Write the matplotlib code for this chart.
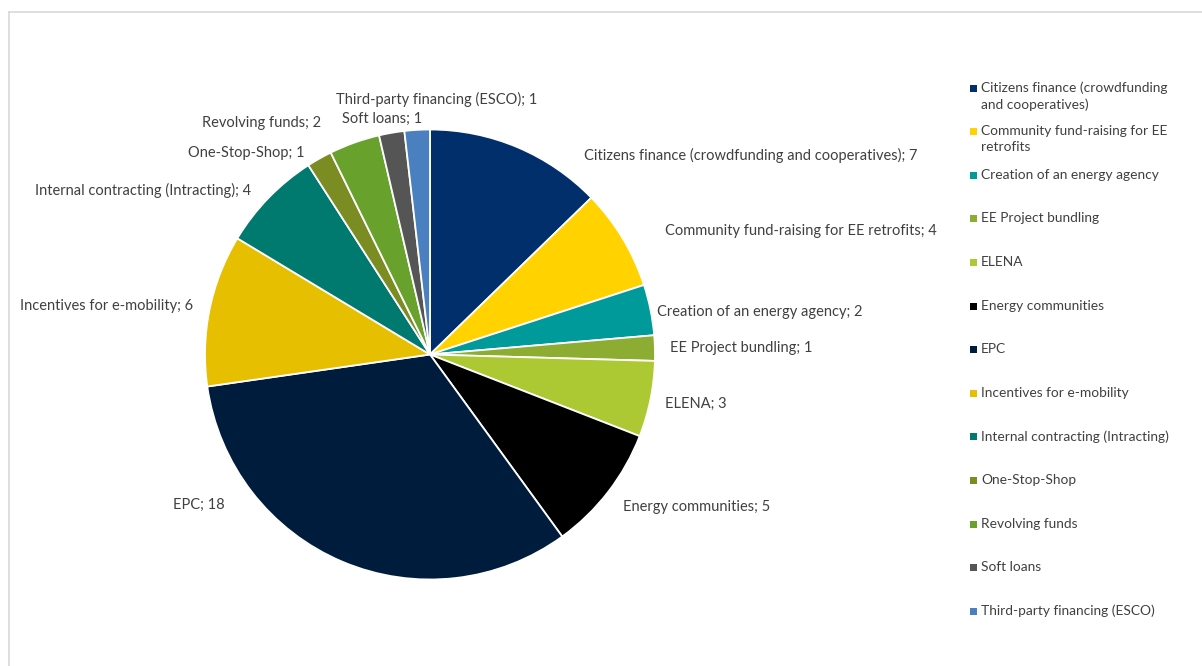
"""Pie chart of financing schemes with side legend."""

import matplotlib
matplotlib.use("Agg")

import matplotlib.pyplot as plt
from matplotlib.patches import Rectangle
from matplotlib.lines import Line2D

# data
categories = [
    "Citizens finance (crowdfunding and cooperatives)",
    "Community fund-raising for EE retrofits",
    "Creation of an energy agency",
    "EE Project bundling",
    "ELENA",
    "Energy communities",
    "EPC",
    "Incentives for e-mobility",
    "Internal contracting (Intracting)",
    "One-Stop-Shop",
    "Revolving funds",
    "Soft loans",
    "Third-party financing (ESCO)",
]
counts = [7, 4, 2, 1, 3, 5, 18, 6, 4, 1, 2, 1, 1]
legend_labels = [
    "Citizens finance (crowdfunding\nand cooperatives)",
    "Community fund-raising for EE\nretrofits",
    "Creation of an energy agency",
    "EE Project bundling",
    "ELENA",
    "Energy communities",
    "EPC",
    "Incentives for e-mobility",
    "Internal contracting (Intracting)",
    "One-Stop-Shop",
    "Revolving funds",
    "Soft loans",
    "Third-party financing (ESCO)",
]

colors = [
    "#002f6c", "#ffd200", "#009a9a", "#8cad32", "#acc934", "#000000",
    "#001c3d", "#e6bf00", "#00796f", "#7a8c22", "#68a12c", "#555555",
    "#4a80c0",
]

# label anchor points (figure pixels, top-left origin) and horizontal alignment
label_pos = [
    (584, 155, "left"), (665, 231, "left"), (657, 312, "left"),
    (670, 348, "left"), (665, 404, "left"), (623, 507, "left"),
    (225, 505, "right"), (193, 306, "right"), (251, 190, "right"),
    (304, 153, "right"), (321, 123, "right"), (422, 119, "right"),
    (537, 99, "right"),
]

W, H = 1202, 666
plt.rcParams["font.family"] = ["Lato", "DejaVu Sans"]

fig = plt.figure(figsize=(W / 100, H / 100), dpi=100)
ax = fig.add_axes([0, 0, 1, 1])

cx, cy, R = 430, H - 354.5, 225
ax.pie(counts, colors=colors, startangle=90, counterclock=False,
       center=(cx, cy), radius=R, frame=True,
       wedgeprops=dict(edgecolor="white", linewidth=1.3))
ax.set_xlim(0, W)
ax.set_ylim(0, H)
ax.set_aspect("equal")
ax.axis("off")

for name, n, (x, y, ha) in zip(categories, counts, label_pos):
    ax.text(x, H - y, f"{name}; {n}", ha=ha, va="center",
            fontsize=10.5, color="#404040")

# legend, drawn by hand to match spacing
leg_y0, leg_step = 88, 43.6
for i, (lab, col) in enumerate(zip(legend_labels, colors)):
    y = H - (leg_y0 + i * leg_step)
    ax.add_patch(Rectangle((970, y - 3.5), 7, 7, facecolor=col,
                           edgecolor="none"))
    ax.text(981, y + 6.5, lab, ha="left", va="top", fontsize=9.9,
            color="#404040", linespacing=1.4)

# frame edges (only top and left visible in the crop)
ax.add_line(Line2D([9, W], [H - 12, H - 12], color="#d9d9d9", linewidth=1.2))
ax.add_line(Line2D([9, 9], [0, H - 12], color="#d9d9d9", linewidth=1.2))

fig.savefig("out.png", dpi=100)
